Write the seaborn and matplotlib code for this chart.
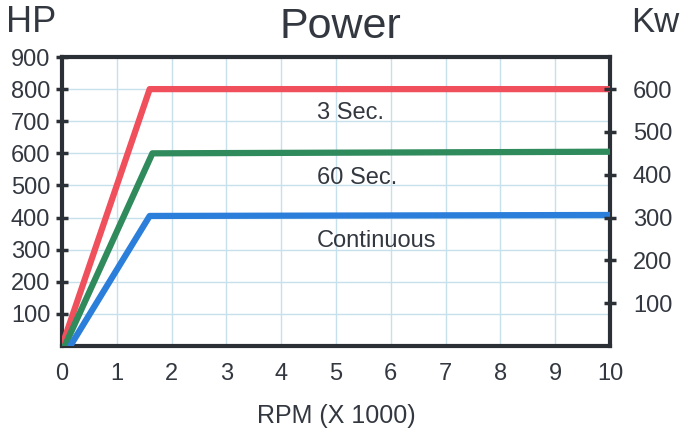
import numpy as np
import pandas as pd
import matplotlib
matplotlib.use("Agg")
import matplotlib.pyplot as plt
import seaborn as sns

# Power curves, HP vs RPM (x 1000)
rpm_3sec = [0.0, 1.6, 10.0]
hp_3sec = [0, 800, 800]
rpm_60sec = [0.05, 1.65, 10.0]
hp_60sec = [0, 600, 605]
rpm_cont = [0.15, 1.6, 10.0]
hp_cont = [0, 405, 408]

series_names = ["3 Sec.", "60 Sec.", "Continuous"]
series_colors = ["#f04f5c", "#2f8a5c", "#2b7fdb"]
label_y = [725, 523, 328]

hp_ticks = [100, 200, 300, 400, 500, 600, 700, 800, 900]
kw_ticks = [100, 200, 300, 400, 500, 600]
rpm_ticks = list(range(0, 11))
HP_TO_KW = 0.75

df = pd.concat([
    pd.DataFrame({"rpm": rpm_3sec, "hp": hp_3sec, "rating": "3 Sec."}),
    pd.DataFrame({"rpm": rpm_60sec, "hp": hp_60sec, "rating": "60 Sec."}),
    pd.DataFrame({"rpm": rpm_cont, "hp": hp_cont, "rating": "Continuous"}),
])

sns.set_style("white")
plt.rcParams["font.family"] = ["Liberation Sans", "DejaVu Sans"]
text_color = "#333840"

fig = plt.figure(figsize=(6.81, 4.34), dpi=100)
ax = fig.add_axes([62 / 681, 1 - 346 / 434, (610 - 62) / 681, (346 - 57) / 434])

sns.lineplot(data=df, x="rpm", y="hp", hue="rating", palette=dict(zip(series_names, series_colors)),
             linewidth=4.5, legend=False, ax=ax, sort=False, estimator=None, zorder=3)

ax.set_xlim(0, 10)
ax.set_ylim(0, 900)
ax.set_xticks(rpm_ticks)
ax.set_yticks(hp_ticks)
ax.grid(True, color="#c6e0ec", linewidth=1.0, zorder=0)
ax.set_axisbelow(True)
for sp in ax.spines.values():
    sp.set_color("#2b2f36")
    sp.set_linewidth(3)
ax.tick_params(axis="y", direction="inout", length=9, width=2.5, color="#2b2f36",
               labelsize=17, labelcolor=text_color, pad=4)
ax.tick_params(axis="x", length=0, labelsize=17, labelcolor=text_color, pad=12)
ax.set_xlabel("RPM (X 1000)", fontsize=18, color=text_color, labelpad=14)
ax.set_ylabel("")

for name, y in zip(series_names, label_y):
    ax.text(4.65, y, name, fontsize=17, color=text_color, ha="left", va="center")

ax2 = ax.twinx()
ax2.set_ylim(0, 900 * HP_TO_KW)
ax2.set_yticks(kw_ticks)
ax2.tick_params(axis="y", direction="inout", length=9, width=2.5, color="#2b2f36",
                labelsize=17, labelcolor=text_color, pad=12)
for sp in ax2.spines.values():
    sp.set_visible(False)

fig.text(340 / 681, 1 - 27 / 434, "Power", fontsize=31, color=text_color, ha="center", va="center")
fig.text(6 / 681, 1 - 22 / 434, "HP", fontsize=26, color=text_color, ha="left", va="center")
fig.text(631 / 681, 1 - 22 / 434, "Kw", fontsize=25, color=text_color, ha="left", va="center")

plt.savefig("out.png", dpi=100)
plt.close()
